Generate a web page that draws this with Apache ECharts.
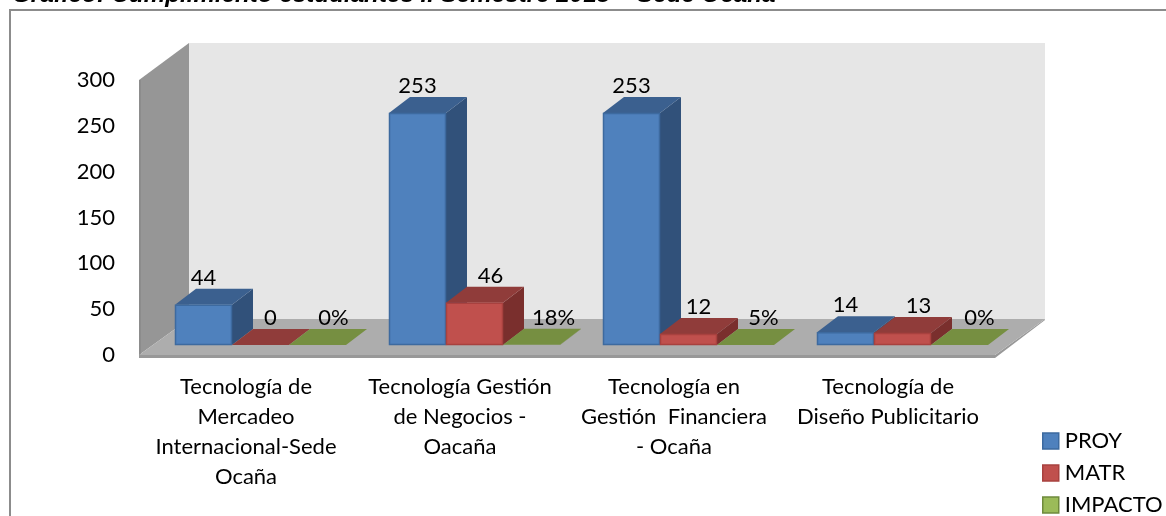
<!DOCTYPE html>
<html><head><meta charset="utf-8">
<style>html,body{margin:0;padding:0;background:#fff}#c{width:1166px;height:516px}</style>
<script src="https://cdn.jsdelivr.net/npm/echarts@6/dist/echarts.min.js"></script>
</head><body><div id="c"></div>
<script>
var categories = ['Tecnología de\nMercadeo\nInternacional-Sede\nOcaña','Tecnología Gestión\nde Negocios -\nOacaña','Tecnología en\nGestión  Financiera\n- Ocaña','Tecnología de\nDiseño Publicitario'];
var yTicks = [0,50,100,150,200,250,300];
var proy = [44,253,253,14];
var matr = [0,46,12,13];
var impacto = [0,0.18,0.05,0];
var impactoLabels = ['0%','18%','5%','0%'];
var seriesNames = ['PROY','MATR','IMPACTO'];

var FONT = 'Lato, Carlito, "Open Sans", sans-serif';
var colors = [
 {front:'#4f81bd',top:'#3b608f',side:'#31517a',edge:'#3d6a9f'},
 {front:'#c0504d',top:'#903c3a',side:'#7a2f2d',edge:'#a8413f'},
 {front:'#9bbb59',top:'#768f41',side:'#637a36',edge:'#6f8a3c'}
];
function poly(pts,fill,stroke){
  return {type:'polygon',shape:{points:pts},style:{fill:fill,stroke:stroke||null,lineWidth:stroke?1:0}};
}
var GW=57/214, DX=21, DY=-16, OX=14.5, OY=-10;
function barRender(sIdx){
  return function(params,api){
    var i=api.value(0), v=api.value(1);
    var base=api.coord([i,0]), topP=api.coord([i,v]);
    var band=api.size([1,0])[0], w=band*GW;
    var x0=base[0]-1.5*w+sIdx*w+OX, x1=x0+w;
    var yb=base[1]+OY, yt=topP[1]+OY;
    var c=colors[sIdx], ch=[];
    ch.push(poly([[x1,yb],[x1+DX,yb+DY],[x1+DX,yt+DY],[x1,yt]],c.side));
    ch.push(poly([[x0,yt],[x1,yt],[x1+DX,yt+DY],[x0+DX,yt+DY]],c.top));
    if(yb-yt>0.5) ch.push({type:'rect',shape:{x:x0+.5,y:yt+.5,width:w-1,height:yb-yt-1},style:{fill:c.front,stroke:c.edge,lineWidth:1.5}});
    return {type:'group',children:ch};
  };
}
function wallRender(params,api){
  var b=api.coord([0,0]), t=api.coord([0,300]);
  var band=api.size([1,0])[0];
  var xl=b[0]-band/2, xr=xl+band*categories.length, D=[50,-36];
  var yb=b[1], yt=t[1];
  return {type:'group',children:[
    poly([[xl+D[0],yt+D[1]-1],[xr+D[0],yt+D[1]-1],[xr+D[0],yb+D[1]],[xl+D[0],yb+D[1]]],'#e6e6e6'),
    poly([[xl,yb],[xl,yt],[xl+D[0],yt+D[1]-1],[xl+D[0],yb+D[1]]],'#969696'),
    {type:'rect',shape:{x:xl,y:yt,width:2,height:yb-yt+3},style:{fill:'#8c8c8c'}},
    poly([[xl,yb],[xr,yb],[xr+D[0],yb+D[1]],[xr+D[0],yb+D[1]+1],[xr,yb+3],[xl,yb+3]],'#989898'),
    poly([[xl,yb],[xr,yb],[xr+D[0],yb+D[1]],[xl+D[0],yb+D[1]]],'#adadad')
  ]};
}
// per-label horizontal nudges from the bar's front-face centre (layout only)
var labelNudge=[[0,0,0,0],[10,16,10,16],[16,22,18,20]];
function labelSeries(values,texts,sIdx){
  return {type:'custom',coordinateSystem:'cartesian2d',xAxisIndex:0,yAxisIndex:0,silent:true,z:10,
    data:values.map(function(v,i){return [i,v];}),
    renderItem:function(params,api){
      var i=api.value(0),v=api.value(1);
      var base=api.coord([i,0]),topP=api.coord([i,v]),band=api.size([1,0])[0],w=band*GW;
      var cx=base[0]-1.5*w+sIdx*w+OX+w/2+labelNudge[sIdx][i];
      return {type:'text',style:{text:String(texts[i]),x:cx,y:topP[1]+OY-16,align:'center',verticalAlign:'bottom',
        font:'22px '+FONT,fill:'#000'}};
    }};
}
var opt={
  animation:false,
  backgroundColor:'#fff',
  grid:{left:139,top:80,width:856,height:275,containLabel:false},
  xAxis:{type:'category',data:categories,axisLine:{show:false},axisTick:{show:false},
    axisLabel:{fontFamily:FONT,fontSize:22,color:'#000',lineHeight:30,margin:17,interval:0,verticalAlign:'top'}},
  yAxis:{type:'value',min:0,max:300,interval:50,axisLine:{show:false},axisTick:{show:false},splitLine:{show:false},
    axisLabel:{fontFamily:FONT,fontSize:22,color:'#000',margin:24,padding:[2,0,0,0],formatter:function(v){return yTicks.indexOf(v)>=0?String(v):'';}}},
  legend:{show:true,orient:'vertical',left:1042,top:430,height:150,padding:0,itemWidth:16,itemHeight:16,itemGap:10,
    textStyle:{fontFamily:FONT,fontSize:22,lineHeight:16,color:'#000',padding:[0,0,0,1]},
    data:seriesNames.map(function(n,i){return {name:n,icon:'rect',itemStyle:{color:colors[i].front,borderColor:colors[i].edge,borderWidth:1.5}};})},
  graphic:[
    {type:'polyline',silent:true,shape:{points:[[10,516],[10,10],[1166,10]]},style:{fill:'none',stroke:'#8c8c8c',lineWidth:2}},
    {type:'text',silent:true,style:{x:12,y:-17,text:'Gráfico: Cumplimiento estudiantes II Semestre 2013 – Sede Ocaña',font:'italic bold 24.2px "Liberation Sans"',fill:'#000'}}
  ],
  series:[
    {type:'custom',silent:true,z:1,data:[[0,0]],renderItem:wallRender},
    {name:'PROY',type:'custom',z:2,itemStyle:{color:colors[0].front},data:proy.map(function(v,i){return [i,v];}),renderItem:barRender(0),encode:{x:0,y:1}},
    {name:'MATR',type:'custom',z:3,itemStyle:{color:colors[1].front},data:matr.map(function(v,i){return [i,v];}),renderItem:barRender(1),encode:{x:0,y:1}},
    {name:'IMPACTO',type:'custom',z:4,itemStyle:{color:colors[2].front},data:impacto.map(function(v,i){return [i,v];}),renderItem:barRender(2),encode:{x:0,y:1}},
    labelSeries(proy,proy,0),labelSeries(matr,matr,1),labelSeries(impacto,impactoLabels,2)
  ]
};
echarts.init(document.getElementById('c'),null,{renderer:'canvas'}).setOption(opt);
</script></body></html>
